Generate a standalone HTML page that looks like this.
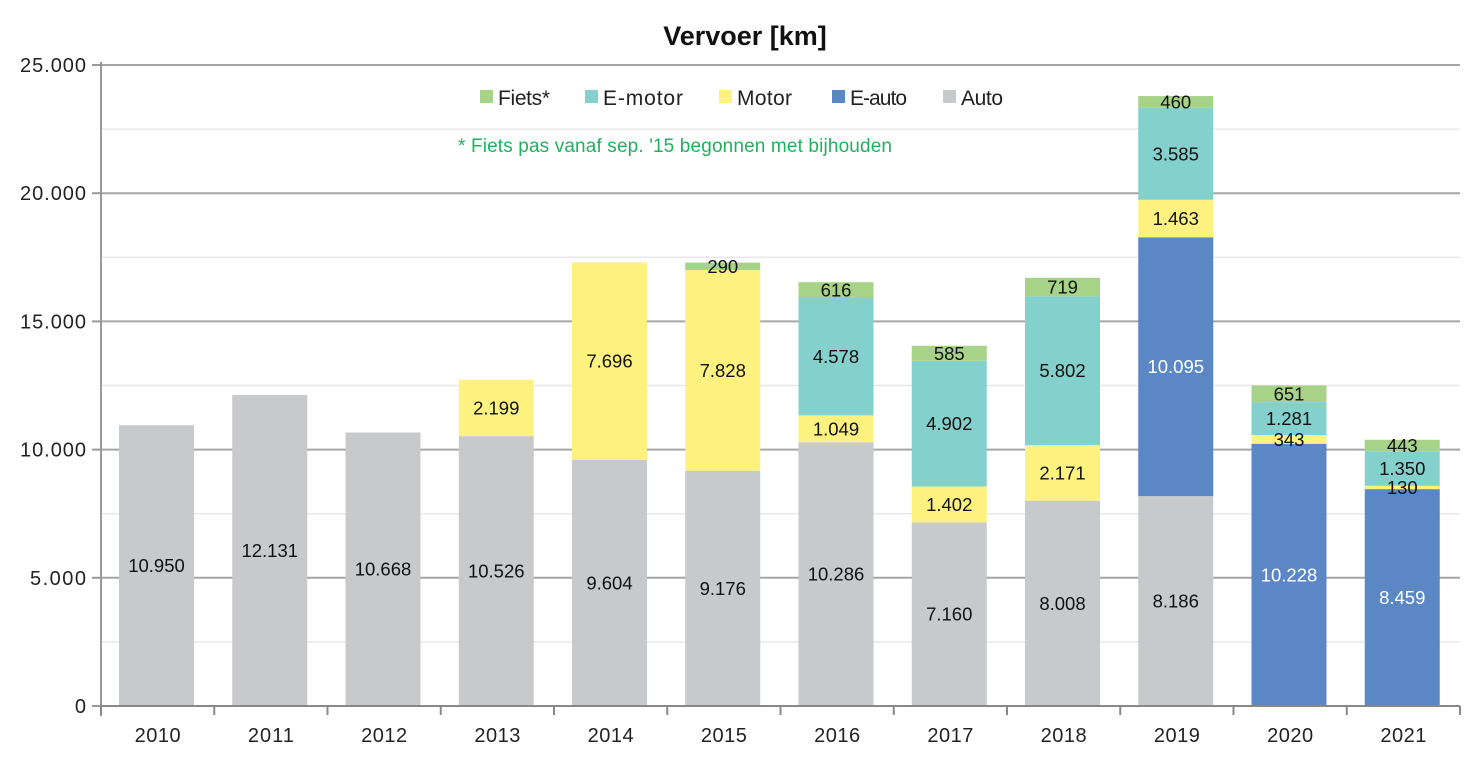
<!DOCTYPE html>
<html><head><meta charset="utf-8"><style>
html,body{margin:0;padding:0;background:#fff}
svg{display:block;font-family:"Liberation Sans",Arial,sans-serif}
</style></head><body>
<svg id="c" width="1475" height="768" xmlns="http://www.w3.org/2000/svg">
<text x="745" y="45" font-size="27" font-weight="bold" text-anchor="middle" fill="#111">Vervoer [km]</text>
<g id="grid"></g>
<g id="bars"></g>
<g font-size="21" fill="#222">
<rect x="480" y="90" width="13" height="13" fill="#a6d387"/><text x="498" y="105" textLength="52">Fiets*</text>
<rect x="585" y="90" width="13" height="13" fill="#84d0cc"/><text x="603" y="105" textLength="80">E-motor</text>
<rect x="719" y="90" width="13" height="13" fill="#fdf27f"/><text x="737" y="105" textLength="55">Motor</text>
<rect x="832" y="90" width="13" height="13" fill="#5b87c5"/><text x="850" y="105" textLength="57">E-auto</text>
<rect x="943" y="90" width="13" height="13" fill="#c8c9cb"/><text x="961" y="105" textLength="42">Auto</text>
</g>
<text x="458" y="152" font-size="19" fill="#22b060" textLength="434">* Fiets pas vanaf sep. '15 begonnen met bijhouden</text>
</svg>
<script>
var y0=706,sc=641/25000,L=101,R=1460,step=(R-L)/12;
var g='';
for(var v=2500;v<=25000;v+=2500){var y=y0-v*sc;var maj=v%5000==0;
g+='<line x1="'+L+'" x2="'+R+'" y1="'+y+'" y2="'+y+'" stroke="'+(maj?'#a6a6a6':'#e8e8e8')+'" stroke-width="'+(maj?2:1.5)+'"/>';}
for(var v=0;v<=25000;v+=5000){var y=y0-v*sc;
g+='<line x1="92" x2="'+L+'" y1="'+y+'" y2="'+y+'" stroke="#999" stroke-width="2"/>';
var lab=(v==0?'0':(v/1000).toFixed(3));
g+='<text x="86" y="'+(y+7)+'" font-size="20" text-anchor="end" fill="#222"'+(v==0?'':' textLength="'+(v<10000?56:66)+'"')+'>'+lab+'</text>';}
g+='<line x1="'+L+'" x2="'+L+'" y1="62" y2="'+(y0+10)+'" stroke="#999" stroke-width="2"/>';
document.getElementById('grid').innerHTML=g;
var C={a:'#c8c9cb',e:'#5b87c5',m:'#fdf27f',em:'#84d0cc',f:'#a6d387'};
var D=[[['a',10950]],[['a',12131]],[['a',10668]],[['a',10526],['m',2199]],[['a',9604],['m',7696]],[['a',9176],['m',7828],['f',290]],
[['a',10286],['m',1049],['em',4578],['f',616]],[['a',7160],['m',1402],['em',4902],['f',585]],[['a',8008],['m',2171],['em',5802],['f',719]],
[['a',8186],['e',10095],['m',1463],['em',3585],['f',460]],[['e',10228],['m',343],['em',1281],['f',651]],[['e',8459],['m',130],['em',1350],['f',443]]];
var b='';
D.forEach(function(s,i){var x=L+i*step+18,cum=0;
s.forEach(function(p){var yt=y0-(cum+p[1])*sc,h=p[1]*sc;
b+='<rect x="'+x+'" y="'+yt+'" width="75" height="'+h+'" fill="'+C[p[0]]+'"/>';cum+=p[1];});
cum=0;
s.forEach(function(p){var yc=y0-(cum+p[1]/2)*sc;cum+=p[1];
var t=(p[1]>=1000?Math.floor(p[1]/1000)+'.'+String(p[1]%1000).padStart(3,'0'):String(p[1]));
b+='<text x="'+(x+37.5)+'" y="'+(yc+6.5)+'" font-size="18.5" text-anchor="middle" fill="'+(p[0]=='e'?'#fff':'#111')+'">'+t+'</text>';});
});
b+='<line x1="'+L+'" x2="'+R+'" y1="'+y0+'" y2="'+y0+'" stroke="#888" stroke-width="2"/>';
for(var i=0;i<=12;i++){var x=L+i*step;b+='<line x1="'+x+'" x2="'+x+'" y1="'+y0+'" y2="'+(y0+9)+'" stroke="#888" stroke-width="2"/>';}
for(var i=0;i<12;i++){b+='<text x="'+(L+i*step+step/2)+'" y="742" font-size="20" text-anchor="middle" fill="#222" textLength="46">'+(2010+i)+'</text>';}
document.getElementById('bars').innerHTML=b;
</script>
</body></html>
